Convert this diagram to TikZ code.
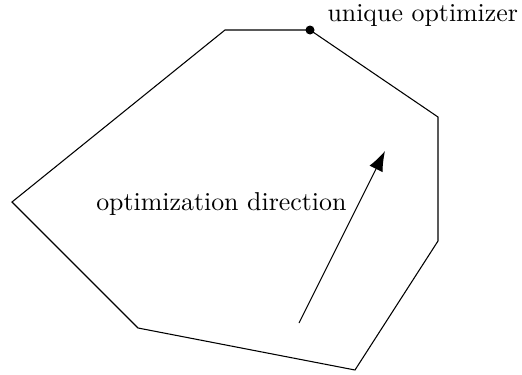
\documentclass[tikz,border=0pt]{standalone}
\usetikzlibrary{arrows.meta}
\begin{document}
\begin{tikzpicture}[x=0.375pt,y=-0.375pt,
  edge/.style={draw=black,line width=0.4pt},
  lbl/.style={inner sep=0pt,font=\fontsize{9.7}{11.6}\selectfont},
  dirarrow/.style={draw=black,line width=0.4pt,-{Latex[length=7.5pt,width=5.5pt]}}]
\useasboundingbox (0,0) rectangle (522,375);
\coordinate (v1) at (225,30);
\coordinate (v2) at (310,30);
\coordinate (v3) at (438,117);
\coordinate (v4) at (438,241);
\coordinate (v5) at (355,370);
\coordinate (v6) at (138,328);
\coordinate (v7) at (12,202);
\draw[edge] (v1) -- (v2) -- (v3) -- (v4) -- (v5) -- (v6) -- (v7) -- cycle;
\fill (v2) circle (4.5);
\node[lbl,anchor=base west] (opt) at (327,22) {unique optimizer};
\coordinate (a0) at (299,323);
\coordinate (a1) at (385,151);
\draw[dirarrow] (a0) -- (a1);
\node[lbl,anchor=base east] (dir) at (347,210) {optimization direction};
\end{tikzpicture}
\end{document}
